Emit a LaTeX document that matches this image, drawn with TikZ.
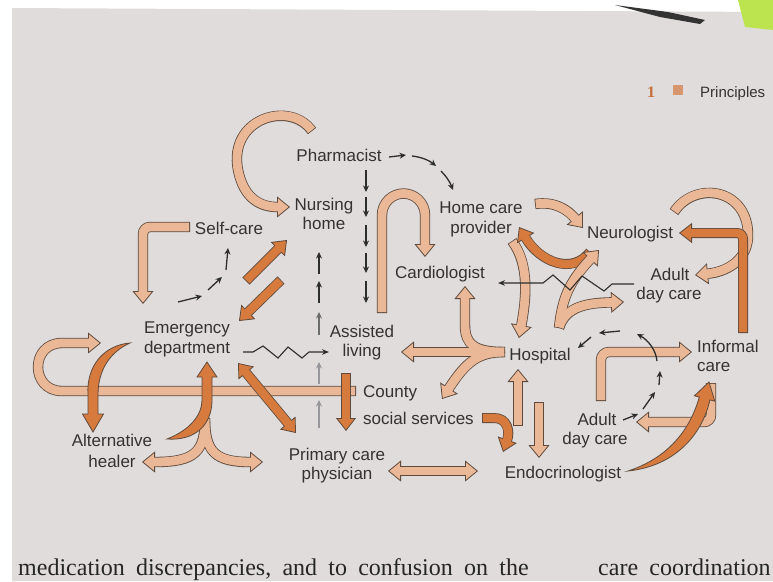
\documentclass[tikz,border=0pt]{standalone}
\usepackage{fontspec}
\setmainfont{Liberation Sans}
\newfontfamily\serifbook{Liberation Serif}
\usetikzlibrary{arrows.meta}
\definecolor{pagec}{RGB}{223,220,219}
\definecolor{lightc}{RGB}{234,184,150}
\definecolor{darkc}{RGB}{214,122,62}
\definecolor{outc}{RGB}{95,75,62}
\definecolor{txtc}{RGB}{52,50,50}
\definecolor{dashc}{RGB}{45,45,45}
\definecolor{greyd}{RGB}{150,150,155}
\definecolor{hdrc}{RGB}{200,110,60}
\definecolor{sqc}{RGB}{215,150,110}
\definecolor{notec}{RGB}{188,228,78}
\tikzset{
  LT/.tip={Triangle[length=13pt,width=21pt,line width=0.8pt,fill=lightc]},
  DT/.tip={Triangle[length=13pt,width=20pt,line width=0.8pt,fill=darkc]},
  lo/.style={draw=outc,line width=10.4pt},
  li/.style={draw=lightc,line width=8.8pt},
  dko/.style={draw=outc,line width=10pt},
  dki/.style={draw=darkc,line width=8.4pt},
  taper/.style={fill=darkc,draw=outc,line width=0.8pt,line join=miter},
  lab/.style={font=\fontsize{17}{19}\selectfont,text=txtc,inner sep=0pt,anchor=base},
  labl/.style={lab,anchor=base west},
  da/.style={draw=dashc,line width=1.3pt,-{Stealth[length=6.5pt,width=6pt]}},
  dg/.style={da,draw=greyd},
  zz/.style={draw=dashc,line width=1.1pt,-{Stealth[length=7pt,width=5.5pt]}},
  runtext/.style={font=\serifbook\fontsize{24}{24}\selectfont,text=black!85,anchor=base west,inner sep=0pt},
}
\newcommand\LO[1]{\draw[lo,-{LT}] #1;}
\newcommand\LI[1]{\draw[li,shorten >=11.5pt,shorten <=0.8pt] #1;}
\newcommand\LA[1]{\LO{#1}\LI{#1}}
\newcommand\LD[1]{\draw[lo,{LT}-{LT}] #1; \draw[li,shorten >=11.5pt,shorten <=11.5pt] #1;}
\newcommand\DA[1]{\draw[dko,-{DT}] #1; \draw[dki,shorten >=11.5pt,shorten <=0.8pt] #1;}
\newcommand\DD[1]{\draw[dko,{DT}-{DT}] #1; \draw[dki,shorten >=11.5pt,shorten <=11.5pt] #1;}
\begin{document}
\begin{tikzpicture}[x=1pt,y=-1pt]
\useasboundingbox (0,0) rectangle (773,581);
% page
\fill[white] (0,0) rectangle (773,581);
\fill[pagec] (12,8) -- (773,12) -- (773,581) -- (12,581) -- cycle;
\fill[black!80] (615,5) -- (668,12) -- (705,20) -- (700,24) -- (660,17) -- cycle;
\fill[notec] (738,0) -- (773,0) -- (773,30) -- (745,27) -- cycle;
% header
\node[font=\serifbook\bfseries\fontsize{16}{16}\selectfont,text=hdrc,anchor=base,inner sep=0pt] (hnum) at (651,97) {1};
\fill[sqc] (673,85) rectangle (683,95);
\node[font=\fontsize{15}{15}\selectfont,text=txtc,anchor=base west,inner sep=0pt] (hpr) at (700,97) {Principles};
% bottom running text
\node[runtext] (bt1) at (18,575.5) {\spaceskip=11.2pt\relax medication discrepancies, and to confusion on the};
\node[runtext] (bt2) at (598,575.5) {\spaceskip=11.2pt\relax care coordination};

% ---- light arrows ----
% county bar U-turn to emergency department
\LA{(356,391) -- (62,391) .. controls (30,391) and (30,343) .. (62,343) -- (101,343)}
% C arrow to nursing home
\LA{(312,131) .. controls (290,100) and (228,118) .. (238,170) .. controls (244,200) and (262,207) .. (290,207)}
% self-care L
\LA{(190,227) [rounded corners=7pt] -- (143,227) -- (143,304)}
% inverted U to cardiologist
\LA{(382,313) -- (382,215) .. controls (382,203) and (392,193.5) .. (403.5,193.5) .. controls (415,193.5) and (425,203) .. (425,215) -- (425,257)}
% hospital T
\LO{(505,352) -- (401,352)}
\LO{(505,352) .. controls (475,352) and (465,345) .. (465,325) -- (465,286)}
\LO{(505,352) .. controls (478,352) and (466,362) .. (442,399)}
\LI{(505,352) -- (401,352)}
\LI{(505,352) .. controls (475,352) and (465,345) .. (465,325) -- (465,286)}
\LI{(505,352) .. controls (478,352) and (466,362) .. (442,399)}
% bottom fork
\LO{(205,418) .. controls (205,452) and (195,462) .. (142,462)}
\LO{(205,418) .. controls (205,452) and (215,462) .. (263,462)}
\LI{(205,418) .. controls (205,452) and (195,462) .. (142,462)}
\LI{(205,418) .. controls (205,452) and (215,462) .. (263,462)}
% PCP <-> endocrinologist
\LD{(388,471) -- (478,471)}
% endocrinologist <-> hospital
\LA{(518,426) -- (518,369)}
\LA{(539,402) -- (539,458)}
% provider -> hospital
\LA{(512,241) .. controls (530,265) and (526,300) .. (519,338)}
% provider -> neurologist
\LA{(535,204) .. controls (555,201) and (568,210) .. (583,228)}
% top right arc to adult day care
\LA{(674,212) .. controls (695,180) and (750,188) .. (748,238) .. controls (746,262) and (725,272) .. (695,275)}
% adult day care -> informal care
\LA{(601,401) [rounded corners=8pt] -- (601,352) -- (692,352)}
% informal care -> adult day care
\LA{(711,383) [rounded corners=7pt] -- (711,422) -- (636,422)}

% ---- dark arrows ----
\DA{(246,281) -- (287,240)}
\DA{(281,280) -- (239,321)}
\DD{(238,363) -- (296,433)}
\DA{(346,373) -- (346,431)}
\DA{(482,418) -- (494,418) .. controls (508,418) and (510,432) .. (503,452)}
\DA{(590,252) .. controls (572,275) and (540,262) .. (519,227)}
\DA{(743,333) [rounded corners=6pt] -- (743,233) -- (679,233)}
% top right Y (light, over crescent)
\LO{(559,328) .. controls (562,300) and (568,283) .. (599,250)}
\LO{(559,328) .. controls (566,305) and (590,303) .. (624,302)}
\LI{(559,328) .. controls (562,300) and (568,283) .. (599,250)}
\LI{(559,328) .. controls (566,305) and (590,303) .. (624,302)}
% tapered dark arrows
\filldraw[taper] (130,343) .. controls (105,345) and (86,365) .. (88,395) -- (88,414) -- (82.5,414) -- (93,432) -- (103.5,414) -- (98,414) -- (98,395) .. controls (98,370) and (110,352) .. (130,343) -- cycle;
\filldraw[taper] (167,439) .. controls (190,430) and (202,415) .. (202,400) -- (202,377) -- (197,377) -- (207,362) -- (217,377) -- (212,377) -- (212,400) .. controls (212,425) and (195,441) .. (167,439) -- cycle;
\filldraw[taper] (628,471) .. controls (668,458) and (690,430) .. (699.3,397.1) -- (694.4,395.8) -- (709,382) -- (714.8,401.2) -- (709.9,399.9) .. controls (702,435) and (675,466) .. (628,471) -- cycle;

% ---- dashed arrows ----
\draw[da] (389,157) -- (406,155);
\draw[da] (412,156) .. controls (422,157) and (430,161) .. (436,166);
\draw[da] (441,171) .. controls (446,176) and (450,182) .. (453,190);
\foreach \a/\b in {170/192,197/217,225/247,253/273,281/303} \draw[da] (366,\a) -- (366,\b);
\foreach \a/\b in {274/252,303/281} \draw[da] (319,\a) -- (319,\b);
\draw[da,draw=dashc!70] (319,335) -- (319,312);
\foreach \a/\b in {384/362,428/400} \draw[dg] (319,\a) -- (319,\b);
\draw[da] (178,302) -- (202,296);
\draw[da] (208,290) -- (222,277);
\draw[da] (226,270) -- (228,248);
\draw[da] (623,420) -- (638,414);
\draw[da] (643,409) -- (655,392);
\draw[da] (659,385) -- (660,371);
\draw[da] (657,361) .. controls (656,350) and (648,340) .. (637,334);
\draw[da] (620,331) -- (599,333);
\draw[da] (591,337) -- (578,348);
% zigzags
\draw[zz] (243,352) -- (253,352) -- (263,346) -- (278,358) -- (288,347) -- (302,358) -- (309,352) -- (329,352);
\draw[zz] (634,284) -- (612,284) -- (604,291) -- (582,276) -- (570,290) -- (553,275) -- (543,283) -- (498,283);

% ---- labels ----
\node[lab] (pharm) at (339,161) {Pharmacist};
\node[lab] (nh1) at (324,210) {Nursing};
\node[lab] (nh2) at (324,229) {home};
\node[lab] (self) at (229,234) {Self-care};
\node[lab] (hc1) at (481,213) {Home care};
\node[lab] (hc2) at (481,233) {provider};
\node[lab] (neuro) at (630,238) {Neurologist};
\node[lab] (cardio) at (440,278) {Cardiologist};
\node[lab] (adt1) at (670,280) {Adult};
\node[lab] (adt2) at (669,299) {day care};
\node[lab] (ed1) at (187,333) {Emergency};
\node[lab] (ed2) at (187,353) {department};
\node[lab] (al1) at (362,337) {Assisted};
\node[lab] (al2) at (362,356) {living};
\node[lab] (hosp) at (540,360) {Hospital};
\node[labl] (inf1) at (697,352) {Informal};
\node[labl] (inf2) at (697,371) {care};
\node[labl] (cty1) at (363,397) {County};
\node[labl] (cty2) at (363,424) {social services};
\node[lab] (adb1) at (597,425) {Adult};
\node[lab] (adb2) at (595,444) {day care};
\node[lab] (alt1) at (112,446) {Alternative};
\node[lab] (alt2) at (112,467) {healer};
\node[lab] (pcp1) at (337,460) {Primary care};
\node[lab] (pcp2) at (337,479) {physician};
\node[lab] (endo) at (563,478) {Endocrinologist};
\end{tikzpicture}
\end{document}
